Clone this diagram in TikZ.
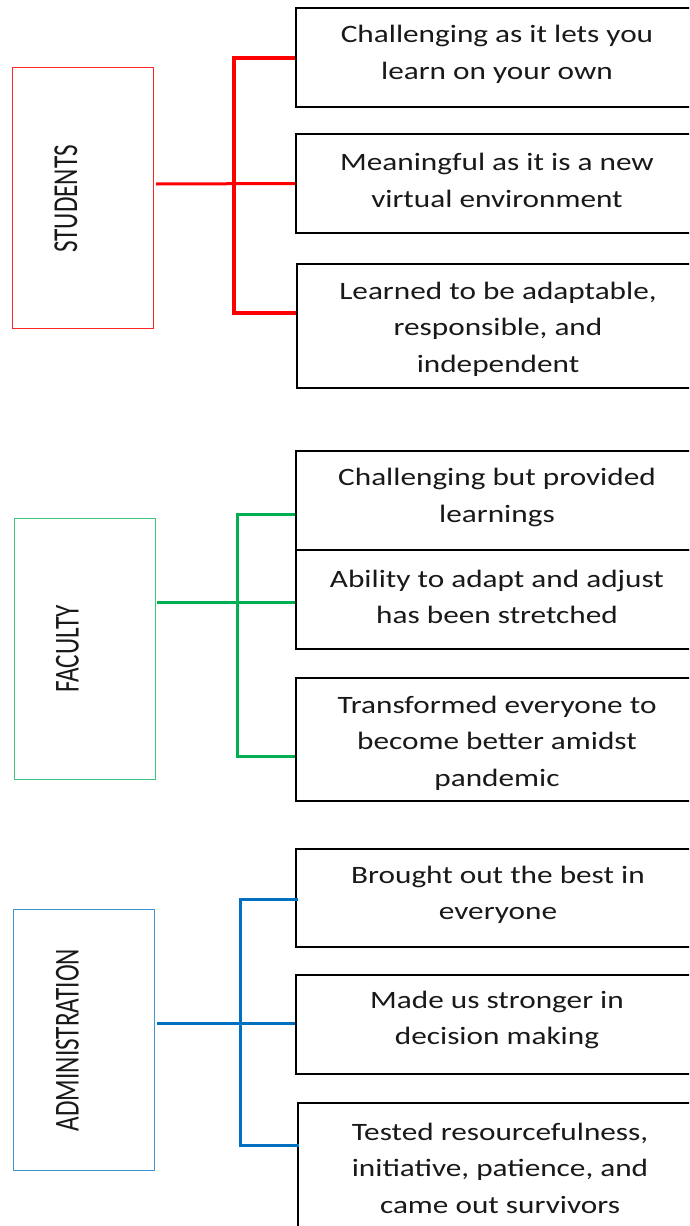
\documentclass[tikz,border=0pt]{standalone}
\usepackage{fontspec}
\setmainfont{Carlito}
\newfontfamily\boxfont{Carlito}[FakeStretch=1.25]
\newfontfamily\labfont{Carlito}[FakeStretch=0.72]
\definecolor{cred}{HTML}{FF0000}
\definecolor{cgreen}{HTML}{00B050}
\definecolor{cblue}{HTML}{0070C0}
\begin{document}
\begin{tikzpicture}[x=1pt,y=-1pt,
  rbox/.style={draw=black, line width=1.3pt, minimum width=402pt, inner sep=0pt},
  lbox/.style={line width=1pt, minimum width=141pt, minimum height=261pt, inner sep=0pt},
  rtext/.style={font=\boxfont\fontsize{25}{36.5}\selectfont, align=center, inner sep=0pt, text=black!90},
  ltext/.style={font=\labfont\fontsize{35}{40}\selectfont, rotate=90, inner sep=0pt, text=black!90},
  conn/.style={line width=3pt},
  bar/.style={line width=4pt, line join=miter}]
\useasboundingbox (0,0) rectangle (689,1226);
\clip (0,0) rectangle (689,1226);
\fill[white] (0,0) rectangle (689,1226);

% ---------- STUDENTS ----------
\node[lbox, draw=cred!85] (S) at (82.5,197.5) {};
\node[ltext] (St) at (66,199) {STUDENTS};
\node[rbox, minimum height=99pt] (b1) at (497,57.5) {};
\node[rbox, minimum height=99pt] (b2) at (497,183.5) {};
\node[rbox, minimum height=124pt] (b3) at (498,326) {};
\node[rtext] (t1) at (497,54.5) {Challenging as it lets you\\learn on your own};
\node[rtext] (t2) at (497,180.5) {Meaningful as it is a new\\virtual environment};
\node[rtext] (t3) at (498,329) {Learned to be adaptable,\\responsible, and\\independent};
\coordinate (s0) at (156,184);
\coordinate (s1) at (234,58);
\coordinate (s3) at (234,313);
\draw[cred, conn] (s0) -- (b2.west);
\draw[cred, bar] (b1.west |- s1) -- (s1) -- (s3) -- (b3.west |- s3);

% ---------- FACULTY ----------
\node[lbox, draw=cgreen!75] (F) at (84.5,648.5) {};
\node[ltext] (Ft) at (67.5,649) {FACULTY};
\node[rbox, minimum height=99pt] (b4) at (497,500.5) {};
\node[rbox, minimum height=99pt] (b5) at (497,599.5) {};
\node[rbox, minimum height=123pt] (b6) at (497,739.5) {};
\node[rtext] (t4) at (497,497.5) {Challenging but provided\\learnings};
\node[rtext] (t5) at (497,597) {Ability to adapt and adjust\\has been stretched};
\node[rtext] (t6) at (497,743) {Transformed everyone to\\become better amidst\\pandemic};
\coordinate (f0) at (157,602);
\coordinate (f1) at (237,514);
\coordinate (f3) at (237,756);
\draw[cgreen, conn] (f0) -- (b5.west |- f0);
\draw[cgreen, conn, line join=miter] (b4.west |- f1) -- (f1) -- (f3) -- (b6.west |- f3);

% ---------- ADMINISTRATION ----------
\node[lbox, draw=cblue!75] (A) at (83.5,1039.5) {};
\node[ltext] (At) at (67.5,1040) {ADMINISTRATION};
\node[rbox, minimum height=98pt] (b7) at (497,898) {};
\node[rbox, minimum height=99pt] (b8) at (497,1024.5) {};
\node[rbox, minimum height=137pt] (b9) at (499,1171.5) {};
\node[rtext] (t7) at (498,895) {Brought out the best in\\everyone};
\node[rtext] (t8) at (497,1020) {Made us stronger in\\decision making};
\node[rtext] (t9) at (500,1168) {Tested resourcefulness,\\initiative, patience, and\\came out survivors};
\coordinate (a0) at (157,1023);
\coordinate (a1) at (240,899);
\coordinate (a3) at (240,1145);
\draw[cblue, conn] (a0) -- (b8.west |- a0);
\draw[cblue, conn, line join=miter] ([xshift=3pt]b7.west |- a1) -- (a1) -- (a3) -- ([xshift=2pt]b9.west |- a3);
\end{tikzpicture}
\end{document}
